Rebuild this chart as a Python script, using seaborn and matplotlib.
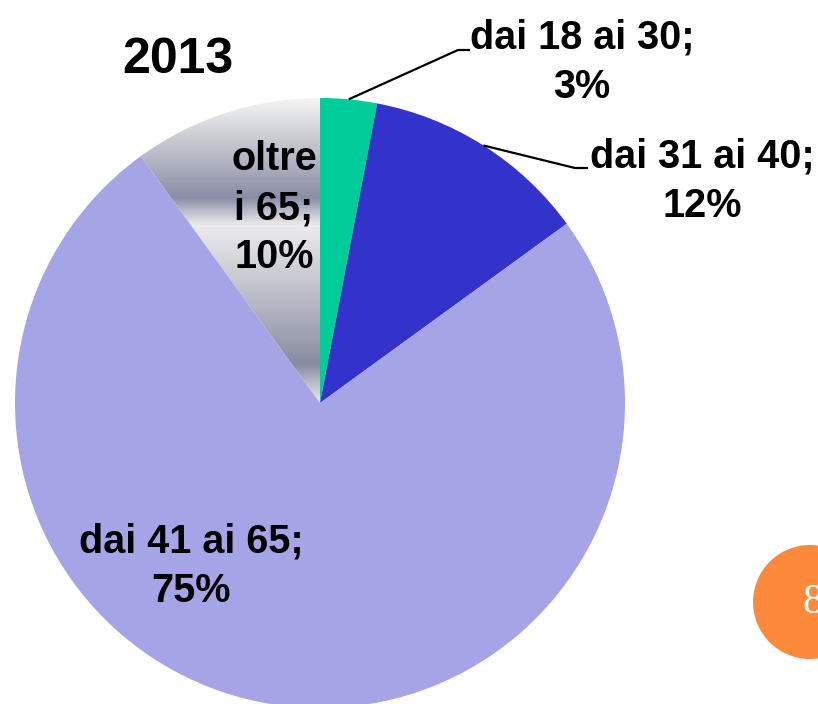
import numpy as np
import seaborn as sns
import matplotlib.pyplot as plt
from matplotlib.colors import LinearSegmentedColormap
from matplotlib.patches import Circle

# dati del grafico
year = '2013'
age_groups = ['dai 18 ai 30;', 'dai 31 ai 40;', 'dai 41 ai 65;', 'oltre\ni 65;']
shares = [3, 12, 75, 10]
slice_colors = ['#00CC99', '#3333CC', '#A4A4E7', None]
slide_number = '8'

sns.set_theme(style='white')
plt.rcParams['font.family'] = ['Liberation Sans', 'DejaVu Sans']

W, H = 818, 704
fig = plt.figure(figsize=(W / 100, H / 100), dpi=100)
ax = fig.add_axes([0, 0, 1, 1])

# lavoro in coordinate pixel (y verso l'alto)
cx, cy, r = 320, H - 403, 305

wedges, _ = ax.pie(
    shares,
    colors=[c if c else 'white' for c in slice_colors],
    startangle=90,
    counterclock=False,
    center=(cx, cy),
    radius=r,
    wedgeprops=dict(linewidth=0, antialiased=True),
)

# spicchio "oltre i 65" con sfumatura metallica
grey = LinearSegmentedColormap.from_list('metal', [
    (0.0, '#F4F4F4'),
    (0.14, '#C6C8D0'),
    (0.32, '#8A8EA5'),
    (0.41, '#ECECEE'),
    (0.60, '#C4C5CE'),
    (0.86, '#888CA1'),
    (0.98, '#E6E6E8'),
    (1.0, '#E6E6E8'),
])
wedges[3].set_facecolor('none')
grad = np.linspace(0, 1, 400).reshape(-1, 1)
img = ax.imshow(grad, cmap=grey, extent=[cx - r, cx + 5, cy - 5, cy + r],
                aspect='auto', origin='upper', zorder=0.5)
img.set_clip_path(wedges[3])

# punti di ancoraggio delle linee guida sul bordo degli spicchi
angles = 90 - 360 * (np.cumsum(shares) - np.array(shares) / 2) / sum(shares)
anchor_x = cx + r * np.cos(np.radians(angles))
anchor_y = cy + r * np.sin(np.radians(angles))

lbl = dict(fontsize=28.5, fontweight='bold', ha='center', va='center',
           multialignment='center', linespacing=1.38, color='black')

# 18-30
ax.plot([anchor_x[0], 458, 470], [anchor_y[0], H - 50, H - 50],
        color='black', lw=1.6, solid_capstyle='butt')
ax.text(582, H - 62, f'{age_groups[0]}\n{shares[0]}%', **lbl)

# 31-40
ax.plot([anchor_x[1], 575, 588], [anchor_y[1], H - 168, H - 168],
        color='black', lw=1.6, solid_capstyle='butt')
ax.text(702, H - 181, f'{age_groups[1]}\n{shares[1]}%', **lbl)

# 41-65
ax.text(191, H - 566, f'{age_groups[2]}\n{shares[2]}%', **lbl)

# oltre 65
ax.text(274, H - 208, f'{age_groups[3]}\n{shares[3]}%', **lbl)

# titolo
ax.text(178, H - 60, year, fontsize=36, fontweight='bold', color='black',
        ha='center', va='center')

# numero di pagina
ax.add_patch(Circle((810, H - 602), 57, color='#FD8A3A', lw=0))
ax.text(813, H - 603, slide_number, fontsize=30, color='white',
        family=['Liberation Serif', 'DejaVu Serif'], ha='center', va='center')

ax.set_xlim(0, W)
ax.set_ylim(0, H)
ax.set_aspect('equal')
ax.axis('off')

fig.savefig('out.png', dpi=100, facecolor='white')
